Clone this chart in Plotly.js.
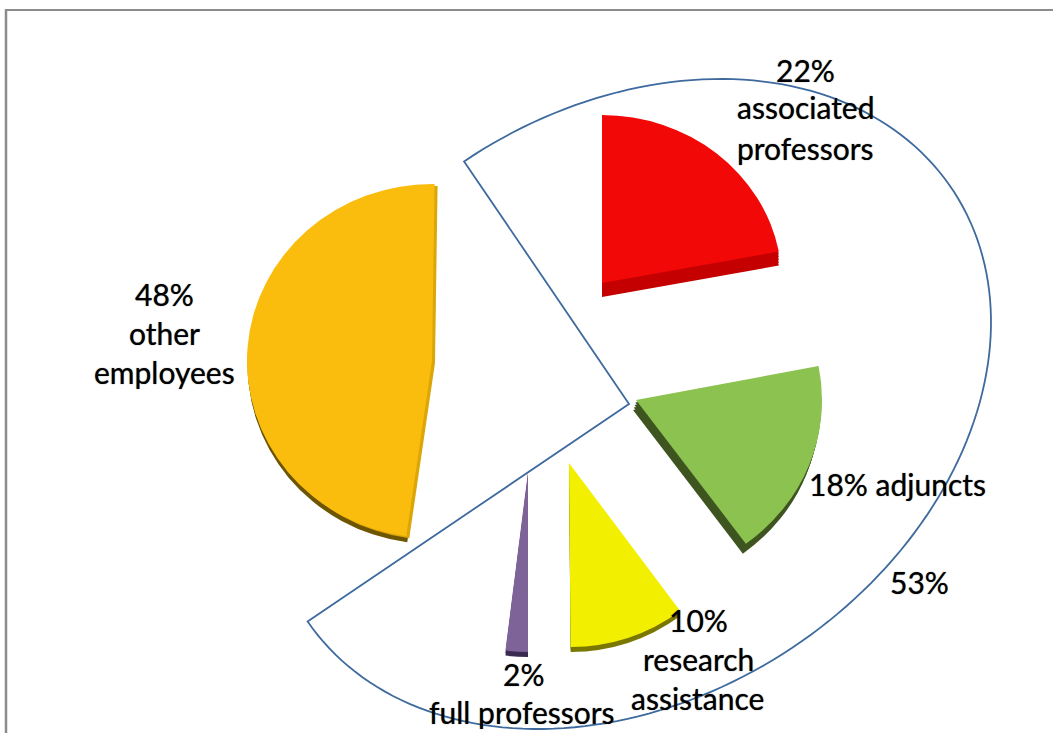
<!DOCTYPE html>
<html><head><meta charset="utf-8">
<script src="https://cdn.plot.ly/plotly-3.0.1.min.js"></script>
<style>html,body{margin:0;padding:0;background:#fff}#c{width:1053px;height:733px}</style>
</head><body><div id="c"></div>
<script>
var W = 1053, H = 733;
var categories = ["other employees", "associated professors", "adjuncts", "research assistance", "full professors"];
var shares = [48, 22, 18, 10, 2];
var academicShare = 53;
var rotations = [188, 0, 79, 143.5, 180];
var colors = ["#FABD0E", "#F30808", "#8CC350", "#F2F000", "#7E6399"];
var depthColors = ["#6E5502", "#C40000", "#3F5520", "#7A7800", "#3A2A50"];
var rimColors = ["#DBA608", null, null, null, null];
var centersX = [432, 602, 636, 569, 528];
var centersY = [361, 283, 400, 463, 472];
var radiiX = [185, 180, 186, 187, 180];
var radiiY = [177, 168, 178, 184, 180];
var depthX = [1, 0, -3, 0, 0];
var depthY = [6, 14, 10, 5, 5];
var labelLines = ["48%", "other", "employees", "22%", "associated", "professors", "18% adjuncts", "10%", "research", "assistance", "2%", "full professors", "53%"];
var labelX = [164, 164, 164, 805, 805, 805, 897, 698, 698, 697, 523, 522, 919];
var labelY = [294, 333, 372, 70, 107, 148, 484, 620, 659, 698, 674, 712, 582];

function dom(cx, cy, r) {
  return {x: [(cx - r) / W, (cx + r) / W], y: [1 - (cy + r) / H, 1 - (cy - r) / H]};
}
var squash = [];
function slice(v, rot, col, cx, cy, rx, ry) {
  squash.push({cx: cx, cy: cy, k: ry / rx});
  return {type: "pie", values: [v, 100 - v], sort: false, direction: "clockwise", rotation: rot,
    domain: dom(cx, cy, rx), textinfo: "none", hoverinfo: "skip", showlegend: false,
    marker: {colors: [col, "rgba(0,0,0,0)"], line: {width: 0}}};
}
var traces = [];
shares.forEach(function (v, i) {
  var n = Math.ceil(Math.max(Math.abs(depthX[i]), Math.abs(depthY[i])) / 3);
  for (var k = n; k >= 1; k--) {
    traces.push(slice(v, rotations[i], depthColors[i], centersX[i] + depthX[i] * k / n, centersY[i] + depthY[i] * k / n, radiiX[i], radiiY[i]));
  }
  if (rimColors[i]) {
    traces.push(slice(v, rotations[i], rimColors[i], centersX[i] + 3, centersY[i] + 2, radiiX[i], radiiY[i]));
  }
  traces.push(slice(v, rotations[i], colors[i], centersX[i], centersY[i], radiiX[i], radiiY[i]));
});

// outline bracket round the academic slices: an elliptical sector
var ox = 629, oy = 404, a11 = 362, a21 = -82, a22 = 314.5, startDeg = 332.9, sweepDeg = 269.7;
function px(x) { return (x / W).toFixed(5); }
function py(y) { return (1 - y / H).toFixed(5); }
var path = "M" + px(ox) + "," + py(oy);
for (var s = 0; s <= 160; s++) {
  var t = (startDeg + sweepDeg * s / 160) * Math.PI / 180;
  var ux = Math.sin(t), uy = -Math.cos(t);
  path += " L" + px(ox + a11 * ux) + "," + py(oy + a21 * ux + a22 * uy);
}
path += " Z";

var shapes = [
  {type: "path", xref: "paper", yref: "paper", path: path, line: {color: "#3E6A9E", width: 1.8}, layer: "below"},
  {type: "line", xref: "paper", yref: "paper", x0: 5 / W, x1: 1, y0: 1 - 10 / H, y1: 1 - 10 / H, line: {color: "#8C8C8C", width: 2}},
  {type: "line", xref: "paper", yref: "paper", x0: 6 / W, x1: 6 / W, y0: 0, y1: 1 - 9 / H, line: {color: "#8C8C8C", width: 2.5}}
];
var annotations = labelLines.map(function (t, i) {
  return {text: t, xref: "paper", yref: "paper", x: labelX[i] / W, y: 1 - labelY[i] / H,
    xanchor: "center", yanchor: "middle", showarrow: false,
    font: {family: "Lato", size: 30, color: "#000", shadow: "0 0 1px rgba(0,0,0,0.7)"}};
});
Plotly.newPlot("c", traces, {
  width: W, height: H, margin: {l: 0, r: 0, t: 0, b: 0}, paper_bgcolor: "#fff", plot_bgcolor: "#fff",
  showlegend: false, shapes: shapes, annotations: annotations
}, {displayModeBar: false, staticPlot: true}).then(function (gd) {
  // the 3D tilt of the original pie: flatten each drawn slice slightly about its own apex
  var groups = gd.querySelectorAll(".pielayer .trace");
  groups.forEach(function (g, i) {
    var q = squash[i];
    g.setAttribute("transform", "translate(" + q.cx + "," + q.cy + ") scale(1," + q.k + ") translate(" + (-q.cx) + "," + (-q.cy) + ")");
  });
});
</script></body></html>
